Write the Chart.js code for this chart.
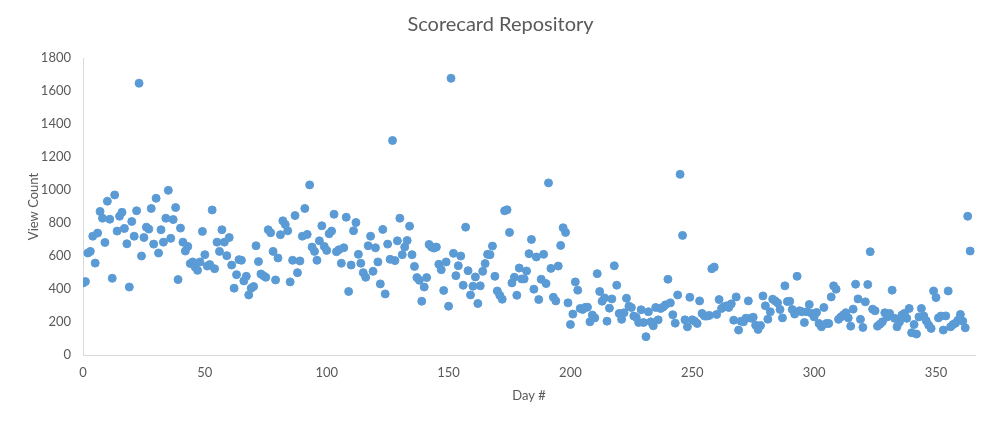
<!DOCTYPE html>
<html>
<head>
<meta charset="utf-8">
<title>Scorecard Repository</title>
<script src="https://cdn.jsdelivr.net/npm/chart.js@4"></script>
<style>
  html, body { margin: 0; padding: 0; background: #fff; }
  #wrap { width: 1000px; height: 424px; }
</style>
</head>
<body>
<div id="wrap"><canvas id="scoreChart" width="1000" height="424"></canvas></div>
<script>
// day number and view count
const days = [
  0, 1, 2, 3, 4, 5, 6, 7, 8, 9, 10, 11, 12, 13, 14, 15, 16, 17, 18, 19,
  20, 21, 22, 23, 24, 25, 26, 27, 28, 29, 30, 31, 32, 33, 34, 35, 36, 37, 38, 39,
  40, 41, 42, 43, 44, 45, 46, 47, 48, 49, 50, 51, 52, 53, 54, 55, 56, 57, 58, 59,
  60, 61, 62, 63, 64, 65, 66, 67, 68, 69, 70, 71, 72, 73, 74, 75, 76, 77, 78, 79,
  80, 81, 82, 83, 84, 85, 86, 87, 88, 89, 90, 91, 92, 93, 94, 95, 96, 97, 98, 99,
  100, 101, 102, 103, 104, 105, 106, 107, 108, 109, 110, 111, 112, 113, 114, 115, 116, 117, 118, 119,
  120, 121, 122, 123, 124, 125, 126, 127, 128, 129, 130, 131, 132, 133, 134, 135, 136, 137, 138, 139,
  140, 141, 142, 143, 144, 145, 146, 147, 148, 149, 150, 151, 152, 153, 154, 155, 156, 157, 158, 159,
  160, 161, 162, 163, 164, 165, 166, 167, 168, 169, 170, 171, 172, 173, 174, 175, 176, 177, 178, 179,
  180, 181, 182, 183, 184, 185, 186, 187, 188, 189, 190, 191, 192, 193, 194, 195, 196, 197, 198, 199,
  200, 201, 202, 203, 204, 205, 206, 207, 208, 209, 210, 211, 212, 213, 214, 215, 216, 217, 218, 219,
  220, 221, 222, 223, 224, 225, 226, 227, 228, 229, 230, 231, 232, 233, 234, 235, 236, 237, 238, 239,
  240, 241, 242, 243, 244, 245, 246, 247, 248, 249, 250, 251, 252, 253, 254, 255, 256, 257, 258, 259,
  260, 261, 262, 263, 264, 265, 266, 267, 268, 269, 270, 271, 272, 273, 274, 275, 276, 277, 278, 279,
  280, 281, 282, 283, 284, 285, 286, 287, 288, 289, 290, 291, 292, 293, 294, 295, 296, 297, 298, 299,
  300, 301, 302, 303, 304, 305, 306, 307, 308, 309, 310, 311, 312, 313, 314, 315, 316, 317, 318, 319,
  320, 321, 322, 323, 324, 325, 326, 327, 328, 329, 330, 331, 332, 333, 334, 335, 336, 337, 338, 339,
  340, 341, 342, 343, 344, 345, 346, 347, 348, 349, 350, 351, 352, 353, 354, 355, 356, 357, 358, 359,
  360, 361, 362, 363, 364
];
const views = [
  437, 445, 618, 628, 720, 557, 739, 870, 829, 682, 932, 823, 465, 970, 751, 841, 865, 767, 674, 412,
  809, 720, 874, 1647, 600, 712, 775, 763, 888, 672, 950, 618, 759, 684, 829, 998, 707, 821, 894, 457,
  769, 684, 630, 658, 554, 564, 533, 513, 564, 749, 608, 539, 548, 879, 523, 684, 628, 759, 684, 602,
  712, 545, 405, 487, 578, 574, 449, 477, 364, 405, 415, 662, 566, 491, 481, 471, 759, 741, 628, 455,
  588, 729, 813, 791, 753, 443, 574, 845, 499, 570, 720, 888, 731, 1031, 654, 628, 574, 692, 783, 658,
  634, 735, 751, 853, 626, 638, 556, 650, 835, 385, 545, 753, 803, 610, 556, 499, 471, 662, 720, 507,
  650, 564, 431, 761, 370, 672, 580, 1300, 572, 692, 829, 608, 654, 694, 781, 608, 537, 469, 453, 326,
  412, 469, 670, 654, 648, 654, 550, 517, 391, 564, 296, 1677, 616, 481, 541, 600, 423, 775, 511, 364,
  417, 473, 312, 419, 507, 554, 610, 608, 660, 477, 388, 362, 338, 874, 880, 743, 437, 471, 362, 527,
  461, 461, 509, 614, 700, 399, 594, 336, 459, 610, 433, 1043, 525, 350, 328, 539, 664, 771, 743, 316,
  185, 248, 443, 393, 282, 276, 288, 290, 201, 242, 225, 493, 385, 326, 346, 205, 284, 340, 541, 423,
  252, 216, 256, 344, 296, 288, 236, 228, 197, 274, 197, 111, 262, 201, 177, 288, 213, 282, 290, 304,
  459, 316, 244, 193, 364, 1095, 725, 213, 171, 350, 213, 205, 191, 328, 252, 236, 236, 240, 523, 533,
  246, 336, 282, 292, 298, 288, 310, 211, 352, 151, 205, 201, 223, 328, 223, 229, 181, 155, 179, 358,
  298, 217, 262, 338, 328, 316, 276, 225, 419, 324, 326, 276, 248, 477, 268, 262, 197, 262, 306, 252,
  231, 258, 191, 171, 288, 191, 191, 352, 419, 399, 216, 231, 243, 256, 225, 175, 278, 429, 340, 216,
  167, 322, 427, 626, 278, 268, 175, 187, 201, 256, 231, 252, 393, 222, 171, 200, 242, 252, 222, 282,
  135, 185, 127, 231, 282, 236, 207, 181, 161, 388, 348, 225, 236, 151, 237, 388, 171, 185, 193, 211,
  246, 205, 165, 841, 630
];
const yTicks = [0, 200, 400, 600, 800, 1000, 1200, 1400, 1600, 1800];
const xTicks = [0, 50, 100, 150, 200, 250, 300, 350];

const points = days.map((d, i) => ({ x: d, y: views[i] }));
const grey = '#595959';
const fontFam = 'Lato, "Liberation Sans", sans-serif';

const ctx = document.getElementById('scoreChart').getContext('2d');
new Chart(ctx, {
  type: 'scatter',
  data: {
    datasets: [{
      label: 'View Count',
      data: points,
      backgroundColor: '#5B9BD5',
      borderColor: '#5B9BD5',
      borderWidth: 1,
      pointRadius: 4,
      pointHoverRadius: 4
    }]
  },
  options: {
    responsive: false,
    animation: false,
    layout: { padding: { left: 26, right: 25, top: 0, bottom: 20 } },
    plugins: {
      legend: { display: false },
      tooltip: { enabled: false },
      title: {
        display: true,
        text: 'Scorecard Repository',
        color: grey,
        font: { family: fontFam, size: 20, weight: 'normal' },
        padding: { top: 13, bottom: 21 }
      }
    },
    scales: {
      x: {
        type: 'linear',
        min: 0,
        max: 366,
        afterBuildTicks: s => { s.ticks = xTicks.map(v => ({ value: v })); },
        grid: { display: false, drawTicks: false },
        border: { display: true, color: '#D9D9D9', width: 1 },
        ticks: { color: grey, font: { family: fontFam, size: 13 }, padding: 10 },
        title: {
          display: true, text: 'Day #', color: grey,
          font: { family: fontFam, size: 13 }, padding: { top: 4, bottom: 0 }
        },
        afterFit: s => { s.height = 49; }
      },
      y: {
        type: 'linear',
        min: 0,
        max: 1800,
        afterBuildTicks: s => { s.ticks = yTicks.map(v => ({ value: v })); },
        grid: { display: false, drawTicks: false },
        border: { display: true, color: '#D9D9D9', width: 1 },
        ticks: { color: grey, font: { family: fontFam, size: 13 }, padding: 12, callback: v => String(v) },
        title: {
          display: true, text: 'View Count', color: grey,
          font: { family: fontFam, size: 13 }, padding: { top: 0, bottom: 0 }
        },
        afterFit: s => { s.width = 57; }
      }
    }
  }
});
</script>
</body>
</html>
